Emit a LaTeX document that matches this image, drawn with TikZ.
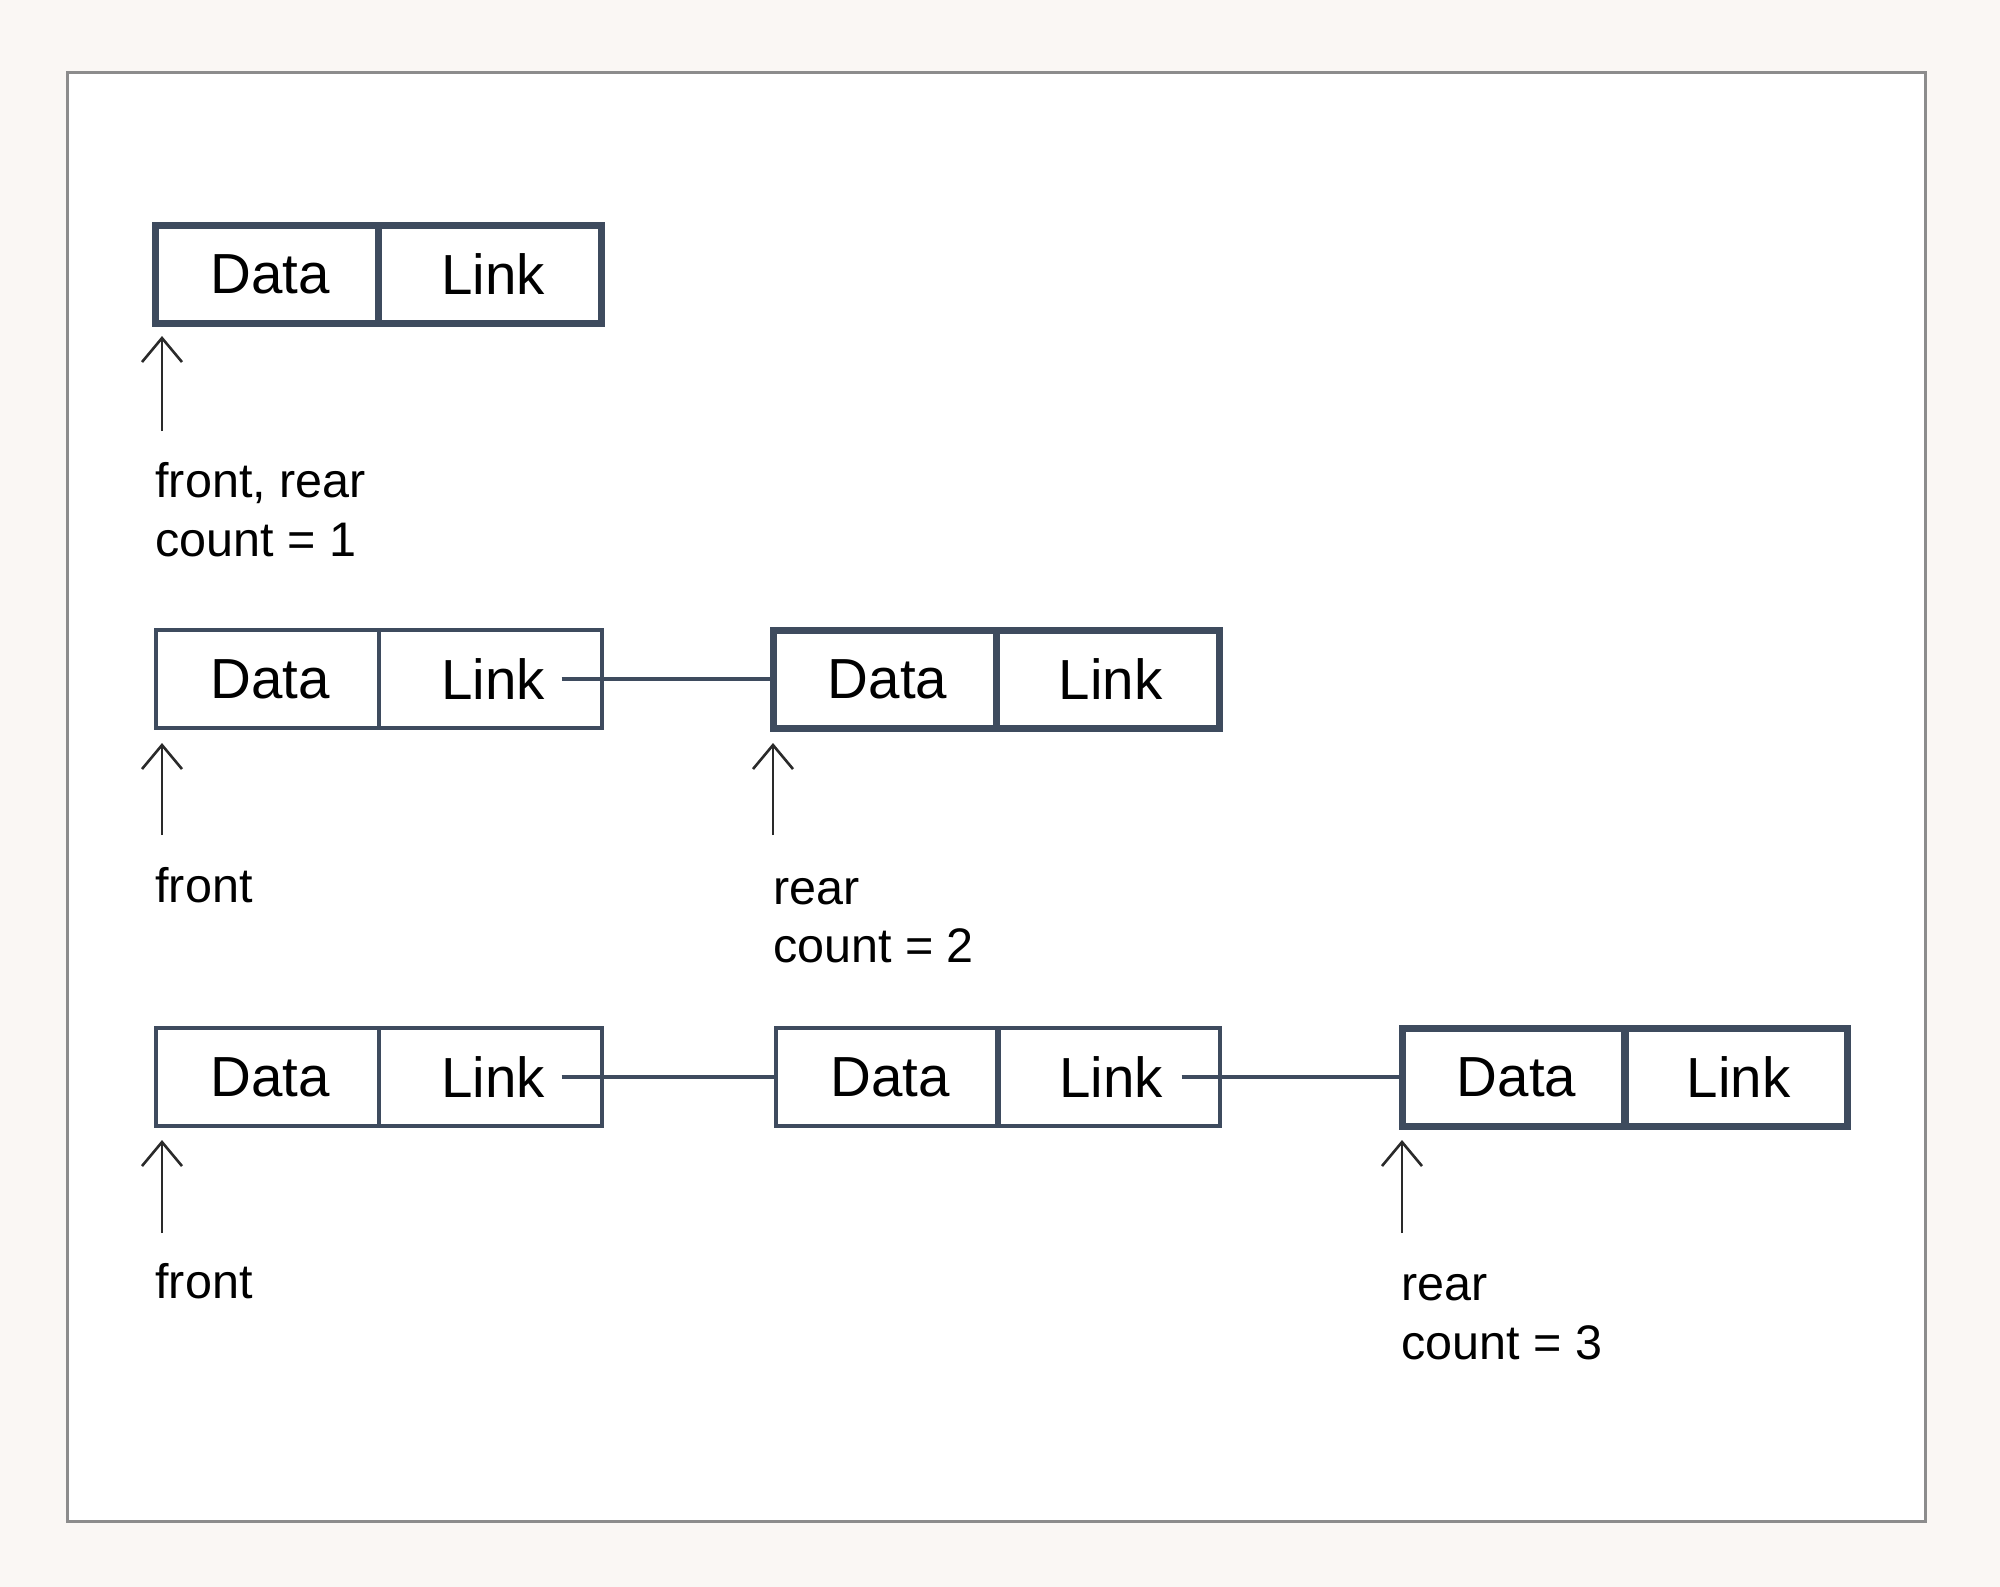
\documentclass[tikz,border=0pt]{standalone}
\usepackage{fontspec}
\setmainfont{Liberation Sans}
\usetikzlibrary{arrows.meta}
\definecolor{bgcol}{HTML}{FAF7F4}
\definecolor{framegray}{HTML}{8C8C8C}
\definecolor{boxcol}{HTML}{3E4B5E}
\definecolor{arrowcol}{HTML}{2A2A2A}
\begin{document}
\begin{tikzpicture}[x=1pt,y=-1pt,
  cellbase/.style={draw=boxcol, minimum width=223pt, minimum height=98pt,
    inner sep=0pt, outer sep=0pt, font=\fontsize{56.5}{60}\selectfont, text=black,
    execute at begin node={\hspace*{6pt}}},
  plaincell/.style={cellbase, line width=4pt},
  heavycell/.style={cellbase, line width=7pt},
  linkline/.style={draw=boxcol, line width=4pt},
  ptr/.style={draw=arrowcol, line width=2.6pt,
    -{Straight Barb[length=24pt, width=40pt, line width=2.6pt]}},
  lbl/.style={anchor=base west, inner sep=0pt, outer sep=0pt,
    font=\fontsize{48.5}{56}\selectfont, text=black}
]
\fill[bgcol] (0,0) rectangle (2000,1587);
\useasboundingbox (0,0) rectangle (2000,1587);
\draw[framegray, line width=2.5pt, fill=white] (67.5,72.5) rectangle (1925.5,1521.5);

% Row 1
\node[heavycell] (d1) at (267,274) {Data};
\node[heavycell] (l1) at (490,274) {Link};
\draw[ptr] ([xshift=6.5pt,yshift=-108pt]d1.south west) -- ([xshift=6.5pt,yshift=-13pt]d1.south west);
\node[lbl] (t1a) at (155.5,497) {front, rear};
\node[lbl] (t1b) at (155.5,556) {count = 1};

% Row 2
\node[plaincell] (d2a) at (267,679) {Data};
\node[plaincell] (l2a) at (490,679) {Link};
\node[heavycell] (d2b) at (884.5,679) {Data};
\node[heavycell] (l2b) at (1107.5,679) {Link};
\draw[linkline] ([xshift=-40pt]l2a.east) -- (d2b.west);
\draw[ptr] ([xshift=6.5pt,yshift=-107pt]d2a.south west) -- ([xshift=6.5pt,yshift=-15pt]d2a.south west);
\draw[ptr] ([xshift=0pt,yshift=-107pt]d2b.south west) -- ([xshift=0pt,yshift=-15pt]d2b.south west);
\node[lbl] (t2a) at (155.5,902) {front};
\node[lbl] (t2b) at (773,904) {rear};
\node[lbl] (t2c) at (773,962) {count = 2};

% Row 3
\node[plaincell] (d3a) at (267,1077) {Data};
\node[plaincell] (l3a) at (490,1077) {Link};
\node[plaincell] (d3b) at (887,1077) {Data};
\node[plaincell] (l3b) at (1108,1077) {Link};
\node[heavycell] (d3c) at (1513.5,1077) {Data};
\node[heavycell] (l3c) at (1735.5,1077) {Link};
\draw[linkline] ([xshift=-40pt]l3a.east) -- (d3b.west);
\draw[linkline] ([xshift=-38pt]l3b.east) -- (d3c.west);
\draw[ptr] ([xshift=6.5pt,yshift=-107pt]d3a.south west) -- ([xshift=6.5pt,yshift=-14pt]d3a.south west);
\draw[ptr] ([xshift=0pt,yshift=-107pt]d3c.south west) -- ([xshift=0pt,yshift=-14pt]d3c.south west);
\node[lbl] (t3a) at (155.5,1298) {front};
\node[lbl] (t3b) at (1401.5,1300) {rear};
\node[lbl] (t3c) at (1401.5,1359) {count = 3};
\end{tikzpicture}
\end{document}
